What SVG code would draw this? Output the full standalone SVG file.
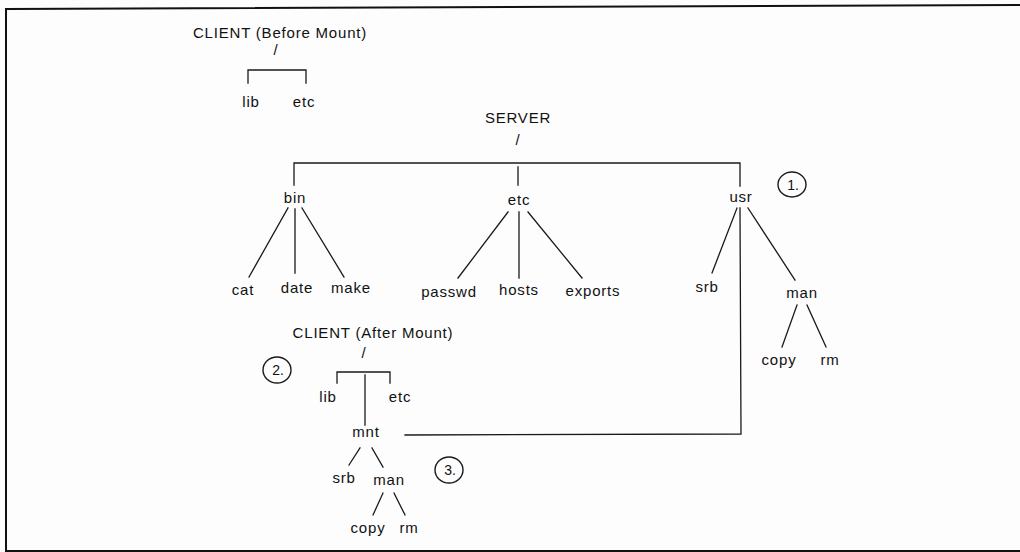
<svg xmlns="http://www.w3.org/2000/svg" width="1020" height="552" viewBox="0 0 1020 552">
  <style>
    .bg { fill: #fdfdfd; }
    .frame { fill: none; stroke: #111; stroke-width: 2; }
    .ln { fill: none; stroke: #1a1a1a; stroke-width: 1.3; stroke-linecap: square; }
    .lbl { font-family: "Liberation Sans", Arial, sans-serif; font-size: 15px; letter-spacing: 0.8px; fill: #111; text-anchor: middle; }
    .mark { fill: none; stroke: #1a1a1a; stroke-width: 1.4; }
    .num { font-family: "Liberation Sans", Arial, sans-serif; font-size: 14px; fill: #111; text-anchor: middle; }
  </style>
  <rect class="bg" x="0" y="0" width="1020" height="552"/>
  <!-- page frame -->
  <path class="frame" d="M6 552 L6 9 L1020 5 M6 551 L1020 551"/>

  <!-- connectors -->
  <g id="connectors">
    <!-- client before mount -->
    <path class="ln" d="M248 83 L248 70 L306 70 L306 83"/>
    <!-- server root -->
    <path class="ln" d="M294 185 L294 163 L740 163 L740 186"/>
    <path class="ln" d="M518 167 L518 185"/>
    <!-- bin -->
    <path class="ln" d="M288 208 L249 277 M295 209 L295 273 M302 208 L344 277"/>
    <!-- etc -->
    <path class="ln" d="M508 212 L458 278 M519 212 L519 278 M528 212 L582 278"/>
    <!-- usr -->
    <path class="ln" d="M737 208 L712 273 M748 208 L795 280"/>
    <path class="ln" d="M797 305 L782 347 M807 305 L826 347"/>
    <!-- mount link: usr down to mnt -->
    <path class="ln" d="M740 208 L741 434 L405 435"/>
    <!-- client after mount -->
    <path class="ln" d="M337 383 L337 372 L390 372 L390 383"/>
    <path class="ln" d="M365 375 L365 425"/>
    <path class="ln" d="M360 448 L349 465 M372 448 L383 467"/>
    <path class="ln" d="M383 493 L373 515 M394 493 L405 515"/>
  </g>

  <!-- client before mount -->
  <g id="client-before">
    <text class="lbl" x="280" y="38">CLIENT (Before Mount)</text>
    <text class="lbl" x="276" y="55">/</text>
  </g>
  <g id="cb-lib"><text class="lbl" x="251" y="107">lib</text></g>
  <g id="cb-etc"><text class="lbl" x="304" y="107">etc</text></g>

  <!-- server tree -->
  <g id="server">
    <text class="lbl" x="518" y="123">SERVER</text>
    <text class="lbl" x="518" y="145">/</text>
  </g>
  <g id="s-bin"><text class="lbl" x="295" y="203">bin</text></g>
  <g id="s-etc"><text class="lbl" x="519" y="205">etc</text></g>
  <g id="s-usr"><text class="lbl" x="741" y="202">usr</text></g>
  <g id="s-cat"><text class="lbl" x="243" y="295">cat</text></g>
  <g id="s-date"><text class="lbl" x="297" y="293">date</text></g>
  <g id="s-make"><text class="lbl" x="351" y="293">make</text></g>
  <g id="s-passwd"><text class="lbl" x="449" y="297">passwd</text></g>
  <g id="s-hosts"><text class="lbl" x="519" y="295">hosts</text></g>
  <g id="s-exports"><text class="lbl" x="593" y="296">exports</text></g>
  <g id="s-srb"><text class="lbl" x="707" y="292">srb</text></g>
  <g id="s-man"><text class="lbl" x="802" y="298">man</text></g>
  <g id="s-copy"><text class="lbl" x="779" y="365">copy</text></g>
  <g id="s-rm"><text class="lbl" x="830" y="365">rm</text></g>

  <!-- client after mount -->
  <g id="client-after">
    <text class="lbl" x="373" y="338">CLIENT (After Mount)</text>
    <text class="lbl" x="364" y="358">/</text>
  </g>
  <g id="ca-lib"><text class="lbl" x="328" y="402">lib</text></g>
  <g id="ca-etc"><text class="lbl" x="400" y="402">etc</text></g>
  <g id="ca-mnt"><text class="lbl" x="366" y="437">mnt</text></g>
  <g id="ca-srb"><text class="lbl" x="344" y="483">srb</text></g>
  <g id="ca-man"><text class="lbl" x="389" y="485">man</text></g>
  <g id="ca-copy"><text class="lbl" x="368" y="533">copy</text></g>
  <g id="ca-rm"><text class="lbl" x="409" y="533">rm</text></g>

  <!-- step markers -->
  <g id="step-1">
    <ellipse class="mark" cx="792" cy="184.5" rx="14" ry="12.5"/>
    <text class="num" x="793" y="189.5">1.</text>
  </g>
  <g id="step-2">
    <ellipse class="mark" cx="277" cy="370" rx="14" ry="13"/>
    <text class="num" x="278" y="375">2.</text>
  </g>
  <g id="step-3">
    <ellipse class="mark" cx="449" cy="470" rx="14" ry="13"/>
    <text class="num" x="450" y="475">3.</text>
  </g>
</svg>
